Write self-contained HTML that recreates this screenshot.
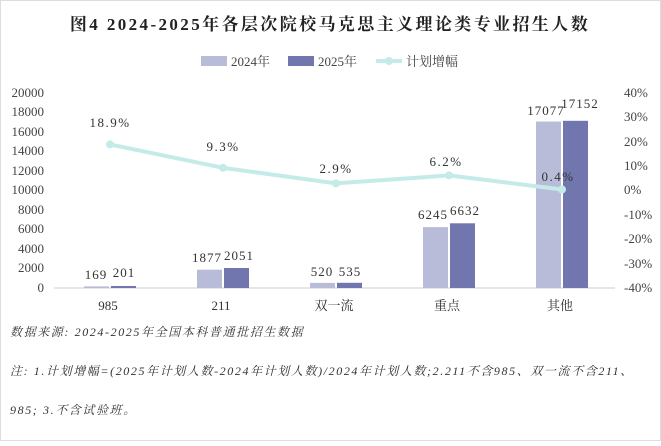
<!DOCTYPE html><html><head><meta charset="utf-8"><style>
body{margin:0;width:661px;height:441px;background:#fff;overflow:hidden;font-family:"Liberation Serif","Noto Serif CJK SC",serif}
</style></head><body>
<svg width="661" height="441" xmlns="http://www.w3.org/2000/svg" font-family="Liberation Serif, Noto Serif CJK SC, serif">
<rect x="0.5" y="0.5" width="660" height="440" fill="#fff" stroke="#ddd"/>
<text x="330" y="30" text-anchor="middle" font-size="17" font-weight="bold" fill="#222" letter-spacing="2.4">图4  2024-2025年各层次院校马克思主义理论类专业招生人数</text>
<rect x="201" y="56" width="26" height="10" fill="#b8bcd8"/><text x="231" y="66" font-size="13" fill="#444">2024年</text>
<rect x="288" y="56" width="26" height="10" fill="#7276ae"/><text x="318" y="66" font-size="13" fill="#444">2025年</text>
<line x1="376" y1="61" x2="402" y2="61" stroke="#c5ebe8" stroke-width="4"/><circle cx="389" cy="61" r="4" fill="#c5ebe8"/><text x="406" y="66" font-size="13" fill="#444">计划增幅</text>
<g font-size="13" fill="#444" text-anchor="end">
<text x="44" y="97">20000</text><text x="44" y="116">18000</text><text x="44" y="136">16000</text><text x="44" y="155">14000</text><text x="44" y="175">12000</text><text x="44" y="194">10000</text><text x="44" y="214">8000</text><text x="44" y="233">6000</text><text x="44" y="253">4000</text><text x="44" y="272">2000</text><text x="44" y="292">0</text>
</g>
<g font-size="13" fill="#444">
<text x="624" y="97">40%</text><text x="624" y="121">30%</text><text x="624" y="146">20%</text><text x="624" y="170">10%</text><text x="624" y="194">0%</text><text x="624" y="219">-10%</text><text x="624" y="243">-20%</text><text x="624" y="268">-30%</text><text x="624" y="292">-40%</text>
</g>
<line x1="54" y1="288" x2="615" y2="288" stroke="#ccc"/>
<g fill="#b8bcd8">
<rect x="84" y="286.4" width="25" height="1.6"/><rect x="197" y="269.7" width="25" height="18.3"/><rect x="310" y="282.9" width="25" height="5.1"/><rect x="423" y="227.1" width="25" height="60.9"/><rect x="536" y="121.5" width="25" height="166.5"/>
</g>
<g fill="#7276ae">
<rect x="111" y="286" width="25" height="2"/><rect x="224" y="268" width="25" height="20"/><rect x="337" y="282.8" width="25" height="5.2"/><rect x="450" y="223.3" width="25" height="64.7"/><rect x="563" y="120.8" width="25" height="167.2"/>
</g>
<g font-size="13" fill="#333" text-anchor="middle" letter-spacing="1">
<text x="96" y="279">169</text><text x="124" y="277">201</text>
<text x="207" y="262">1877</text><text x="239" y="260">2051</text>
<text x="322" y="276">520</text><text x="350" y="276">535</text>
<text x="433" y="219">6245</text><text x="465" y="215">6632</text>
<text x="546" y="115">17077</text><text x="580" y="108">17152</text>
</g>
<polyline points="110,144.4 223,167.8 336,183.4 449,175.4 562,189.5" fill="none" stroke="#c5ebe8" stroke-width="4"/>
<g fill="#c5ebe8"><circle cx="110" cy="144.4" r="4"/><circle cx="223" cy="167.8" r="4"/><circle cx="336" cy="183.4" r="4"/><circle cx="449" cy="175.4" r="4"/><circle cx="562" cy="189.5" r="4"/></g>
<g font-size="13" fill="#333" text-anchor="middle" letter-spacing="1.5">
<text x="110" y="127">18.9%</text><text x="223" y="151">9.3%</text><text x="336" y="173">2.9%</text><text x="446" y="166">6.2%</text><text x="558" y="181">0.4%</text>
</g>
<g font-size="13" fill="#333" text-anchor="middle">
<text x="108" y="310">985</text><text x="221" y="310">211</text><text x="334" y="310">双一流</text><text x="447" y="310">重点</text><text x="560" y="310">其他</text>
</g>
<g font-size="12" fill="#333" font-style="italic" letter-spacing="1.6">
<text x="10" y="336">数据来源:  2024-2025年全国本科普通批招生数据</text>
<text x="10" y="375">注:  1.计划增幅=(2025年计划人数-2024年计划人数)/2024年计划人数;2.211不含985、双一流不含211、</text>
<text x="10" y="414">985;  3.不含试验班。</text>
</g>
</svg>
</body></html>
